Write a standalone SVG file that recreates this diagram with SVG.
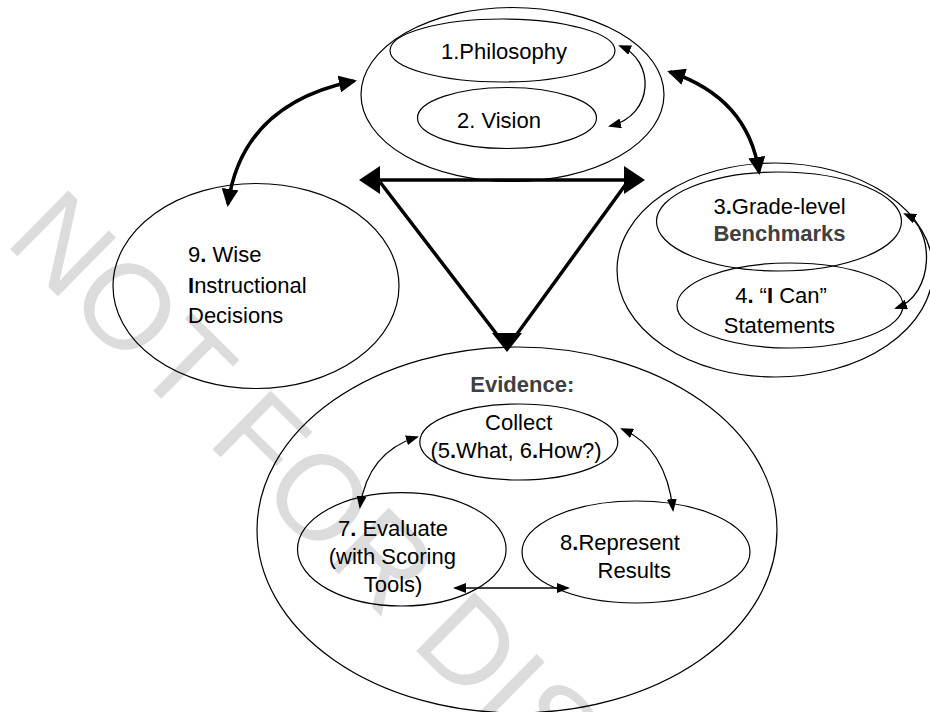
<svg xmlns="http://www.w3.org/2000/svg" width="930" height="712" viewBox="0 0 930 712">
<style>
  .bg { fill: #ffffff; }
  .wm { font-family: "Liberation Sans", Arial, sans-serif; font-size: 120px; fill: #dcdcdc; }
  .el { fill: none; stroke: #000; stroke-width: 1.2; }
  .t { font-family: "Liberation Sans", Arial, sans-serif; font-size: 22px; fill: #000; }
  .c { text-anchor: middle; }
  .hb { font-weight: bold; fill: #404040; }
  .b { font-weight: bold; }
  .thin { fill: none; stroke: #000; stroke-width: 1.3; marker-start: url(#hThin); marker-end: url(#hThin); }
  .thick { fill: none; stroke: #000; stroke-width: 3.5; marker-start: url(#hThick); marker-end: url(#hThick); }
  .tri { fill: none; stroke: #000; stroke-width: 3.5; }
  .big { marker-start: url(#hBig); marker-end: url(#hBig); }
  .head { fill: #000; }
</style>
<defs>
  <marker id="hThin" markerUnits="userSpaceOnUse" markerWidth="13" markerHeight="10" refX="11" refY="5" orient="auto-start-reverse">
    <path d="M0,0 L13,5 L0,10 z" fill="#000"/>
  </marker>
  <marker id="hThick" markerUnits="userSpaceOnUse" markerWidth="18" markerHeight="17" refX="15" refY="8.5" orient="auto-start-reverse">
    <path d="M0,0 L18,8.5 L0,17 z" fill="#000"/>
  </marker>
  <marker id="hBig" markerUnits="userSpaceOnUse" markerWidth="21" markerHeight="28" refX="18" refY="14" orient="auto-start-reverse">
    <path d="M0,0 L21,14 L0,28 z" fill="#000"/>
  </marker>
</defs>
<rect class="bg" x="0" y="0" width="930" height="712"/>
<text class="wm" transform="translate(3.2,242.3) rotate(44.7)">NOT FOR DIS</text>

<g id="node-top">
  <ellipse class="el" cx="512.5" cy="94.5" rx="151.5" ry="87"/>
  <g id="node-1">
    <ellipse class="el" cx="502.5" cy="50.5" rx="112.5" ry="31.5"/>
    <text class="t c" x="504" y="59">1.Philosophy</text>
  </g>
  <g id="node-2">
    <ellipse class="el" cx="507" cy="118" rx="89.5" ry="30.5"/>
    <text class="t c" x="499" y="128">2. Vision</text>
  </g>
</g>

<g id="node-9">
  <ellipse class="el" cx="256" cy="286" rx="143" ry="102.5"/>
  <text class="t" x="188" y="261.7">9<tspan class="b">.</tspan> Wise</text>
  <text class="t" x="188" y="292.7"><tspan class="b">I</tspan>nstructional</text>
  <text class="t" x="188" y="322.7">Decisions</text>
</g>

<g id="node-right">
  <ellipse class="el" cx="775" cy="270" rx="158" ry="107"/>
  <g id="node-3">
    <ellipse class="el" cx="779" cy="221.5" rx="122.5" ry="49.5"/>
    <text class="t c" x="779.5" y="213.5">3<tspan class="b">.</tspan>Grade-level</text>
    <text class="t c hb" x="779.5" y="241">Benchmarks</text>
  </g>
  <g id="node-4">
    <ellipse class="el" cx="790" cy="305.5" rx="113" ry="42.5"/>
    <text class="t c" x="781" y="303.3">4<tspan class="b">.</tspan> “<tspan class="b">I</tspan> Can”</text>
    <text class="t c" x="779.4" y="332.7">Statements</text>
  </g>
</g>

<g id="node-evidence">
  <ellipse class="el" cx="517" cy="530" rx="260" ry="183"/>
  <text class="t c hb" x="522.3" y="392">Evidence:</text>
  <g id="node-collect">
    <ellipse class="el" cx="518.8" cy="442" rx="99" ry="38"/>
    <text class="t c" x="518.7" y="430">Collect</text>
    <text class="t c" x="516" y="457.7">(5<tspan class="b">.</tspan>What, 6<tspan class="b">.</tspan>How?)</text>
  </g>
  <g id="node-7">
    <ellipse class="el" cx="401.8" cy="549.3" rx="104.3" ry="56.7"/>
    <text class="t c" x="393" y="536">7<tspan class="b">.</tspan> Evaluate</text>
    <text class="t c" x="392.3" y="564.3">(with Scoring</text>
    <text class="t c" x="393" y="592">Tools)</text>
  </g>
  <g id="node-8">
    <ellipse class="el" cx="636" cy="552" rx="114" ry="51"/>
    <text class="t c" x="620" y="550.3">8<tspan class="b">.</tspan>Represent</text>
    <text class="t c" x="634.3" y="577.7">Results</text>
  </g>
</g>

<g id="connectors">
  <path class="thick" d="M354,81 Q242,104 228,204"/>
  <path class="thick" d="M670,72 Q748,98 759,172"/>
  <path class="tri big" d="M362,180 L642,180"/>
  <path class="tri" d="M380,182 L505,345"/>
  <path class="tri" d="M626,184 L509,345"/>
  <polygon class="head" points="492,333 522,333 507,352"/>
  <path class="thin" d="M620,46 C655,60 655,115 610,126"/>
  <path class="thin" d="M905,214 C935,228 935,295 896,308"/>
  <path class="thin" d="M417,437 Q368,452 360,507"/>
  <path class="thin" d="M622,429 Q666,448 673,510"/>
  <path class="thin" d="M455,588 L568,588"/>
</g>
</svg>
